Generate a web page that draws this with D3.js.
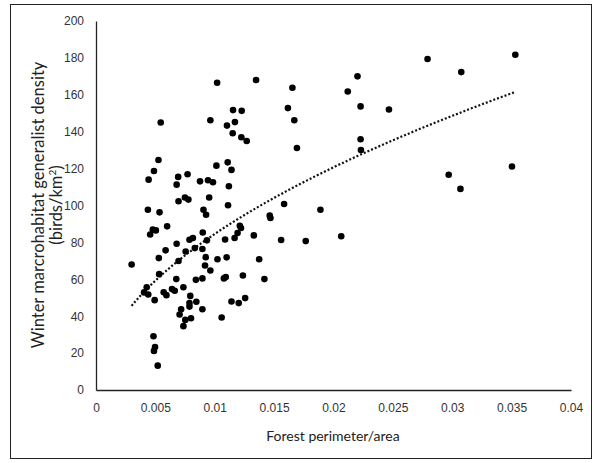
<!DOCTYPE html>
<html><head><meta charset="utf-8">
<script src="https://cdn.jsdelivr.net/npm/d3@7"></script>
<style>
body{margin:0;background:#fff;}
svg{display:block;}
</style></head><body>
<svg id="c" width="594" height="463"></svg>
<script>
const xVals = [0.0030,0.00427,0.00405,0.0044,0.00443,0.00437,0.00456,0.00478,0.00504,0.00488,0.00526,0.00545,0.00535,0.00529,0.00532,0.00494,0.00484,0.00497,0.00488,0.0052,
0.0057,0.00593,0.00599,0.00586,0.0064,0.00663,0.00676,0.00679,0.00679,0.00692,0.00695,0.00695,0.00704,0.00717,0.00736,0.00736,0.00752,0.00755,0.00749,0.00778,
0.00771,0.00787,0.00794,0.00787,0.00787,0.0080,0.00816,0.00832,0.00841,0.00845,0.00876,0.00896,0.00899,0.00896,0.00896,0.00905,0.00918,0.00927,0.00924,0.00934,
0.00943,0.00953,0.00963,0.00963,0.00985,0.01014,0.0102,0.01023,0.01058,0.01077,0.01093,0.01087,0.0110,0.01103,0.01109,0.01112,0.01119,0.01141,0.01141,0.01151,
0.01154,0.01167,0.0117,0.01192,0.01202,0.01211,0.01221,0.01224,0.01227,0.01237,0.01256,0.01269,0.01329,0.01348,0.01374,0.01418,0.01463,0.01469,0.01559,0.01584,
0.01616,0.01654,0.0167,0.01692,0.01766,0.0189,0.02065,0.0212,0.02202,0.02228,0.02228,0.02231,0.02467,0.02792,0.0297,0.03069,0.03076,0.03503,0.03531];
const yVals = [68,55.7,52.9,51.8,114,97.7,84.3,86.9,86.5,118.7,124.7,145,96.3,71.5,62.8,48.7,29.1,23.3,21.2,13.2,
53,51.4,88.7,75.7,54.7,53.8,60.1,79.3,111.3,115.5,102.3,69.9,40.9,43.8,55.7,34.6,38,75.1,104.3,103.2,
116.9,81.4,51,47.1,45.2,38.9,82.4,76.9,59.7,47.8,113.1,76.4,85.4,60.5,43.8,97.7,67.5,95,72,81.1,
113.7,104.3,146.2,64.8,112.6,121.6,166.5,70.9,39.3,60.5,61.2,81.6,71.9,143.3,123.4,100.1,110.4,119.3,48,139.2,
151.7,82.4,145.2,85.1,47.1,89,87.8,137,151.3,62.1,49.8,135,83.8,168,70.9,60.1,94.5,93.2,81.3,100.8,
152.8,163.8,146.2,131.2,80.7,97.7,83.3,161.8,170,153.7,135.9,130.1,152,179.4,116.7,109,172.3,121.1,181.7];
const xTicks = [0,0.005,0.01,0.015,0.02,0.025,0.03,0.035,0.04];
const yTicks = [0,20,40,60,80,100,120,140,160,180,200];
// power trendline y = A * x^B
const trendA = 898;
const trendB = 0.513;
const xTitle = "Forest perimeter/area";
const yTitle1 = "Winter marcrohabitat generalist density";
const yTitle2 = "(birds/km";

const svg = d3.select("#c");
svg.append("rect").attr("x",10.5).attr("y",4.5).attr("width",581).attr("height",454)
  .attr("fill","#fff").attr("stroke","#222").attr("stroke-width",1);

const x = d3.scaleLinear().domain([0,0.04]).range([96,571]);
const y = d3.scaleLinear().domain([0,200]).range([390,21]);
const tickFont = "'Liberation Sans Narrow','Arial Narrow',sans-serif";

const gx = svg.append("g").attr("transform","translate(0,390)")
  .call(d3.axisBottom(x).tickValues(xTicks).tickSize(0).tickPadding(13).tickFormat(d=>d===0?"0":String(+d.toFixed(3))));
const gy = svg.append("g").attr("transform","translate(96,0)")
  .call(d3.axisLeft(y).tickValues(yTicks).tickSize(0).tickPadding(12).tickFormat(d3.format("d")));
[gx,gy].forEach(g=>{
  g.select(".domain").attr("stroke","#222").attr("stroke-width",1.3);
  g.selectAll("text").attr("font-family",tickFont).attr("font-size",12).attr("fill","#333");
});

const xmin = d3.min(xVals), xmax = d3.max(xVals);
const tl = d3.range(0,101).map(i=>xmin+(xmax-xmin)*i/100);
svg.append("path").datum(tl)
  .attr("d", d3.line().x(d=>x(d)).y(d=>y(trendA*Math.pow(d,trendB))))
  .attr("fill","none").attr("stroke","#111").attr("stroke-width",2.2).attr("stroke-dasharray","2,2");

svg.append("g").selectAll("circle").data(xVals.map((v,i)=>[v,yVals[i]])).join("circle")
  .attr("cx",d=>x(d[0])).attr("cy",d=>y(d[1])).attr("r",3.3).attr("fill","#000");

const titleFont = "Lato,'Open Sans',sans-serif";
svg.append("text").attr("x",333).attr("y",441).attr("text-anchor","middle")
  .attr("font-family",titleFont).attr("font-size",14).attr("fill","#222").text(xTitle);
const yt = svg.append("text").attr("transform","translate(44,205) rotate(-90)").attr("text-anchor","middle")
  .attr("font-family",titleFont).attr("font-size",16.5).attr("fill","#222");
yt.append("tspan").attr("x",0).attr("dy",0).text(yTitle1);
const l2 = svg.append("text").attr("transform","translate(62,205) rotate(-90)").attr("text-anchor","middle")
  .attr("font-family",titleFont).attr("font-size",16.5).attr("fill","#222");
l2.append("tspan").text(yTitle2);
l2.append("tspan").attr("dy",-6).attr("font-size",10).text("2");
l2.append("tspan").attr("dy",6).text(")");
</script></body></html>
